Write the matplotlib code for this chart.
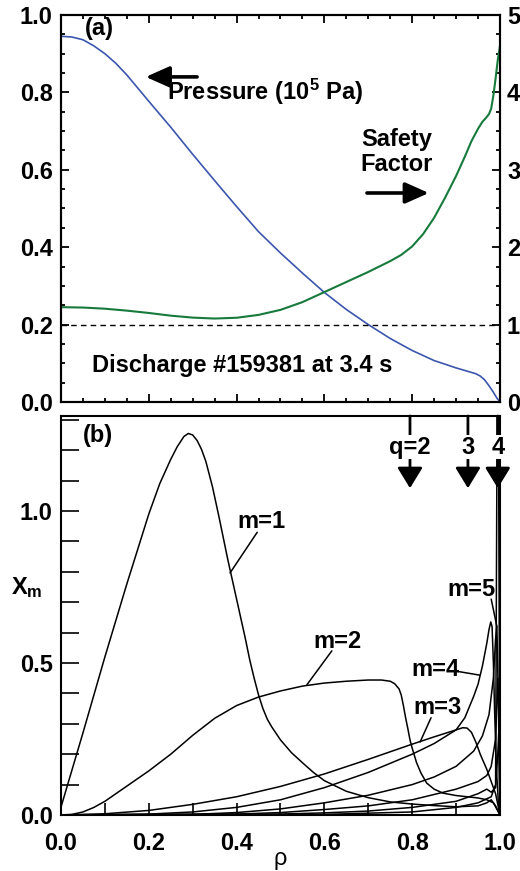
import matplotlib
matplotlib.use("Agg")
import matplotlib.pyplot as plt
from matplotlib.ticker import MultipleLocator

plt.rcParams['font.family'] = ['Liberation Sans', 'DejaVu Sans']
plt.rcParams['font.weight'] = 'bold'
plt.rcParams['mathtext.default'] = 'regular'
plt.rcParams['lines.solid_joinstyle'] = 'round'

# ---------------- data: panel (a) ----------------
rho_p = [0.0, 0.025, 0.05, 0.075, 0.1, 0.125, 0.15, 0.175, 0.2, 0.25, 0.3, 0.35, 0.4, 0.45,
         0.5, 0.55, 0.6, 0.65, 0.7, 0.75, 0.8, 0.85, 0.9, 0.93, 0.945, 0.955, 0.965, 0.975,
         0.985, 0.993, 1.0]
pressure = [0.945, 0.943, 0.936, 0.92, 0.9, 0.875, 0.845, 0.811, 0.777, 0.71, 0.64, 0.572,
            0.505, 0.44, 0.385, 0.333, 0.283, 0.239, 0.2, 0.164, 0.133, 0.107, 0.088,
            0.078, 0.073, 0.067, 0.057, 0.042, 0.025, 0.01, 0.0]

rho_q = [0.0, 0.05, 0.1, 0.15, 0.2, 0.25, 0.3, 0.35, 0.4, 0.45, 0.5, 0.55, 0.6, 0.65, 0.7,
         0.75, 0.775, 0.8, 0.825, 0.85, 0.875, 0.9, 0.92, 0.935, 0.95, 0.96, 0.968, 0.975,
         0.98, 0.985, 0.99, 0.995, 1.0]
safety_q = [1.225, 1.22, 1.205, 1.18, 1.15, 1.115, 1.09, 1.078, 1.088, 1.125, 1.19, 1.29,
            1.42, 1.55, 1.68, 1.82, 1.90, 2.01, 2.17, 2.38, 2.64, 2.92, 3.17, 3.37, 3.53,
            3.62, 3.67, 3.72, 3.79, 3.96, 4.18, 4.42, 4.6]

q_ref = 1.0

# ---------------- data: panel (b) ----------------
rho_m1 = [0, 0.05, 0.1, 0.15, 0.2, 0.225, 0.25, 0.265, 0.28, 0.29, 0.3, 0.31, 0.32, 0.33,
          0.345, 0.36, 0.38, 0.4, 0.42, 0.43, 0.44, 0.45, 0.46, 0.47, 0.48, 0.5, 0.525, 0.55,
          0.575, 0.6, 0.65, 0.7, 0.75, 0.8, 0.85, 0.9, 0.95, 0.97, 0.98, 0.99, 1.0]
chi_m1 = [0.026, 0.27, 0.52, 0.76, 0.99, 1.09, 1.17, 1.212, 1.245, 1.255, 1.25, 1.232, 1.203,
          1.163, 1.08, 0.98, 0.84, 0.71, 0.58, 0.51, 0.45, 0.395, 0.35, 0.315, 0.29, 0.247,
          0.205, 0.172, 0.14, 0.113, 0.078, 0.057, 0.043, 0.036, 0.031, 0.027, 0.03, 0.04,
          0.05, 0.03, 0.0]

rho_m2 = [0, 0.025, 0.05, 0.075, 0.1, 0.125, 0.15, 0.2, 0.25, 0.3, 0.35, 0.4, 0.45, 0.5,
          0.55, 0.6, 0.65, 0.7, 0.73, 0.75, 0.76, 0.77, 0.775, 0.78, 0.785, 0.79, 0.795, 0.8,
          0.81, 0.82, 0.833, 0.85, 0.87, 0.9, 0.95, 0.97, 0.985, 1.0]
chi_m2 = [0, 0.002, 0.01, 0.025, 0.045, 0.07, 0.095, 0.145, 0.2, 0.262, 0.318, 0.36, 0.388,
          0.408, 0.424, 0.434, 0.44, 0.444, 0.444, 0.44, 0.432, 0.415, 0.395, 0.36, 0.32,
          0.285, 0.247, 0.22, 0.172, 0.138, 0.105, 0.085, 0.072, 0.064, 0.056, 0.05, 0.04, 0.0]

rho_m3 = [0, 0.1, 0.2, 0.3, 0.4, 0.5, 0.6, 0.7, 0.8, 0.85, 0.9, 0.915, 0.925, 0.935, 0.945,
          0.955, 0.97, 0.98, 0.99, 1.0]
chi_m3 = [0, 0.004, 0.015, 0.035, 0.06, 0.094, 0.135, 0.183, 0.233, 0.257, 0.28, 0.287,
          0.286, 0.272, 0.24, 0.2, 0.15, 0.11, 0.07, 0]

rho_m4 = [0, 0.2, 0.3, 0.4, 0.5, 0.6, 0.7, 0.8, 0.85, 0.9, 0.92, 0.94, 0.95, 0.96, 0.97,
          0.975, 0.979, 0.982, 0.985, 0.988, 0.992, 0.996, 1.0]
chi_m4 = [0, 0.003, 0.01, 0.025, 0.05, 0.09, 0.14, 0.2, 0.235, 0.28, 0.32, 0.39, 0.43, 0.49,
          0.565, 0.61, 0.635, 0.62, 0.5, 0.33, 0.15, 0.05, 0]

rho_m5 = [0, 0.3, 0.4, 0.5, 0.6, 0.7, 0.8, 0.85, 0.9, 0.94, 0.96, 0.975, 0.985, 0.99, 0.993,
          0.996, 1.0]
chi_m5 = [0, 0.002, 0.008, 0.02, 0.04, 0.065, 0.1, 0.125, 0.16, 0.21, 0.26, 0.33, 0.45, 0.58,
          0.62, 0.4, 0]

rho_m6 = [0, 0.4, 0.5, 0.6, 0.7, 0.8, 0.9, 0.95, 0.97, 0.98, 0.99, 0.995, 0.998, 1.0]
chi_m6 = [0, 0.003, 0.008, 0.018, 0.03, 0.05, 0.085, 0.11, 0.13, 0.16, 0.25, 0.45, 0.3, 0]

rho_m7 = [0, 0.5, 0.6, 0.7, 0.8, 0.9, 0.95, 0.97, 0.98, 0.99, 0.995, 0.998, 1.0]
chi_m7 = [0, 0.003, 0.007, 0.013, 0.025, 0.045, 0.07, 0.085, 0.075, 0.09, 0.2, 0.3, 0]

rho_m8 = [0, 0.6, 0.8, 0.9, 0.95, 0.98, 0.99, 0.994, 0.996, 1.0]
chi_m8 = [0, 0.002, 0.01, 0.025, 0.04, 0.06, 0.1, 1.5, 1.5, 0]

modes_rho = [rho_m1, rho_m2, rho_m3, rho_m4, rho_m5, rho_m6, rho_m7, rho_m8]
modes_chi = [chi_m1, chi_m2, chi_m3, chi_m4, chi_m5, chi_m6, chi_m7, chi_m8]

q_labels = ['q=2', '3', '4']
q_rho = [0.795, 0.927, 0.995]

m_labels = ['m=1', 'm=2', 'm=3', 'm=4', 'm=5']

# ---------------- figure ----------------
fig = plt.figure(figsize=(5.2, 8.71), dpi=100)
axa = fig.add_axes([0.1173, 0.5385, 0.8442, 0.4443])
axb = fig.add_axes([0.1173, 0.0643, 0.8442, 0.4581])

FS = 17
blue = '#3b56ad'
green = '#177a3c'
spw = 1.5

# panel (a)
axa.plot(rho_p, pressure, color=blue, lw=1.2)
axq = axa.twinx()
axq.plot(rho_q, safety_q, color=green, lw=1.5)
axq.axhline(q_ref, color='black', lw=1.0, ls=(0, (4, 3)))
axa.set_xlim(0, 1)
axa.set_ylim(0, 1)
axq.set_ylim(0, 5)

axa.xaxis.set_major_locator(MultipleLocator(0.2))
axa.xaxis.set_minor_locator(MultipleLocator(0.05))
axa.yaxis.set_major_locator(MultipleLocator(0.2))
axa.yaxis.set_minor_locator(MultipleLocator(0.05))
axq.yaxis.set_major_locator(MultipleLocator(1))
axq.yaxis.set_minor_locator(MultipleLocator(0.25))
axa.tick_params(axis='x', which='both', direction='in', top=True, bottom=True,
                labelbottom=False, width=1.3)
axa.tick_params(axis='x', which='major', length=6)
axa.tick_params(axis='x', which='minor', length=3)
axa.tick_params(axis='y', which='both', direction='in', left=True, right=False,
                width=1.3, labelsize=FS, pad=6)
axa.tick_params(axis='y', which='major', length=6)
axa.tick_params(axis='y', which='minor', length=3)
axq.tick_params(axis='y', which='both', direction='in', right=True, width=1.3,
                labelsize=FS, pad=5)
axq.tick_params(axis='y', which='major', length=6)
axq.tick_params(axis='y', which='minor', length=3)
axa.set_yticks([0, 0.2, 0.4, 0.6, 0.8, 1.0])
axa.set_yticklabels(['0.0', '0.2', '0.4', '0.6', '0.8', '1.0'])
for ax in (axa, axq):
    for s in ax.spines.values():
        s.set_linewidth(spw)
    for lab in ax.get_yticklabels():
        lab.set_fontweight('bold')

axa.text(0.055, 0.965, '(a)', fontsize=FS, fontweight='bold', ha='left', va='center',
         transform=axa.transAxes)
axa.text(0.241, 0.80, 'Pressure (10$^5$ Pa)', fontsize=FS, fontweight='bold',
         ha='left', va='center')
axa.annotate('', xy=(0.193, 0.84), xytext=(0.31, 0.84),
             arrowprops=dict(arrowstyle='-|>,head_length=0.9,head_width=0.4',
                             mutation_scale=16, lw=2.6, color='black',
                             shrinkA=0, shrinkB=0))
axa.text(0.765, 0.646, 'Safety\nFactor', fontsize=FS, fontweight='bold',
         ha='center', va='center', linespacing=1.15)
axa.annotate('', xy=(0.838, 0.54), xytext=(0.697, 0.54),
             arrowprops=dict(arrowstyle='-|>,head_length=0.9,head_width=0.4',
                             mutation_scale=16, lw=2.6, color='black',
                             shrinkA=0, shrinkB=0))
axa.text(0.07, 0.093, 'Discharge #159381 at 3.4 s', fontsize=FS, fontweight='bold',
         ha='left', va='center')

# panel (b)
for r, c in zip(modes_rho, modes_chi):
    axb.plot(r, c, color='black', lw=1.1)
axb.set_xlim(0, 1)
axb.set_ylim(0, 1.3125)
axb.xaxis.set_major_locator(MultipleLocator(0.2))
axb.xaxis.set_minor_locator(MultipleLocator(0.1))
axb.yaxis.set_major_locator(MultipleLocator(0.5))
axb.yaxis.set_minor_locator(MultipleLocator(0.1))
axb.tick_params(axis='x', which='both', direction='in', top=False, bottom=True,
                length=9, width=1.2, labelsize=FS, pad=12)
axb.tick_params(axis='y', which='both', direction='in', left=True, right=False,
                length=13, width=1.2, labelsize=FS, pad=6)
axb.set_xticks([0, 0.2, 0.4, 0.6, 0.8, 1.0])
axb.set_xticklabels(['0.0', '0.2', '0.4', '0.6', '0.8', '1.0'])
axb.set_yticks([0, 0.5, 1.0])
axb.set_yticklabels(['0.0', '0.5', '1.0'])
for s in axb.spines.values():
    s.set_linewidth(spw)
for lab in axb.get_xticklabels() + axb.get_yticklabels():
    lab.set_fontweight('bold')

axb.set_xlabel('ρ', fontsize=FS, fontweight='normal', labelpad=-5)
fig.text(0.052, 0.325, 'X$_m$', fontsize=FS, fontweight='bold', ha='center', va='center')
axb.text(0.084, 1.247, '(b)', fontsize=FS, fontweight='bold', ha='center', va='center')

# q arrows
for lab, r in zip(q_labels, q_rho):
    axb.annotate('', xy=(r, 1.075), xytext=(r, 1.3125),
                 arrowprops=dict(arrowstyle='-|>,head_length=0.9,head_width=0.55',
                                 mutation_scale=14, lw=2.0, color='black',
                                 shrinkA=0, shrinkB=0))
    axb.text(r, 1.21, lab, fontsize=FS, fontweight='bold', ha='center', va='center',
             bbox=dict(facecolor='white', edgecolor='none', pad=0.5))

# m labels with leader lines
m_text_pos = [(0.456, 0.964), (0.629, 0.572), (0.857, 0.352), (0.852, 0.48), (0.934, 0.743)]
m_leader_start = [(0.447, 0.93), (0.617, 0.54), (0.843, 0.32), (0.905, 0.472), (0.98, 0.71)]
m_leader_end = [(0.385, 0.796), (0.56, 0.428), (0.818, 0.24), (0.954, 0.46), (0.993, 0.62)]
for lab, tp, ls_, le in zip(m_labels, m_text_pos, m_leader_start, m_leader_end):
    axb.text(tp[0], tp[1], lab, fontsize=FS, fontweight='bold', ha='center', va='center')
    axb.annotate('', xy=le, xytext=ls_,
                 arrowprops=dict(arrowstyle='-', lw=1.1, color='black',
                                 shrinkA=0, shrinkB=0))

fig.savefig('out.png', dpi=100)
